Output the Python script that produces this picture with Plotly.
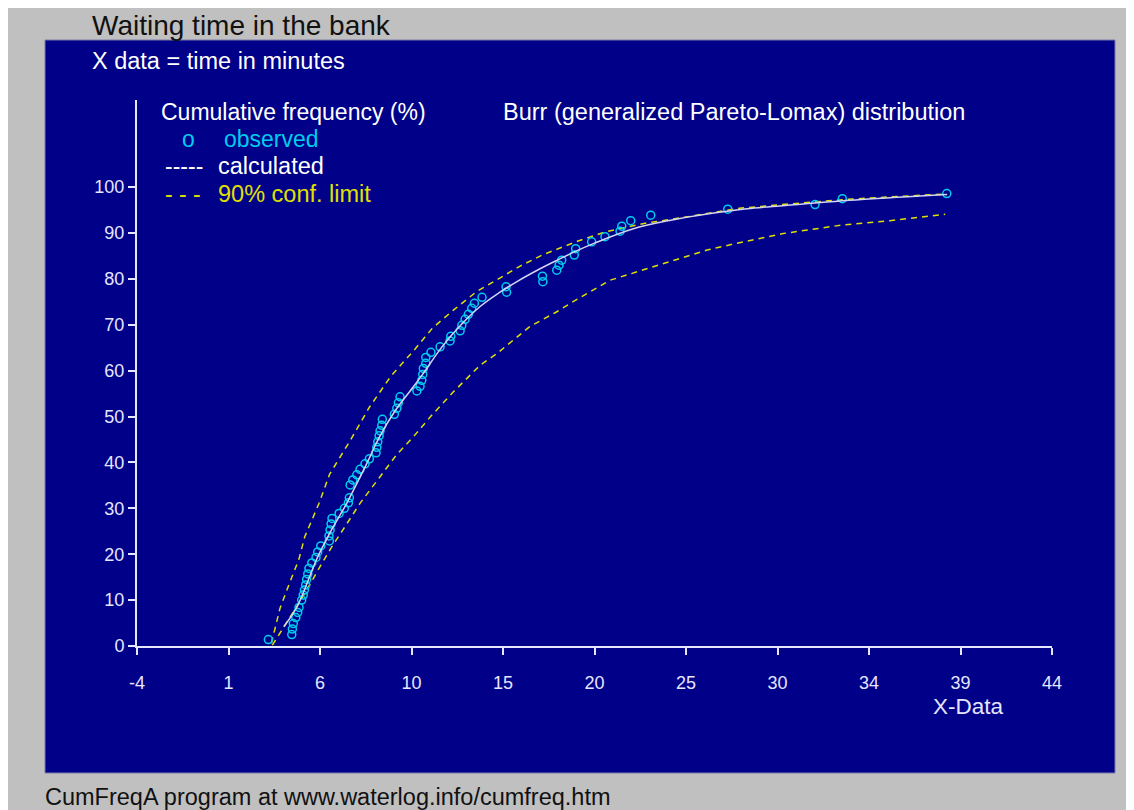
import plotly.graph_objects as go

# ---------------- data ----------------
obs_x = [2.89, 4.12, 4.15, 4.20, 4.33, 4.43, 4.50, 4.64, 4.72, 4.78, 4.85, 4.90, 4.96, 5.02,
         5.17, 5.39, 5.48, 5.64, 6.09, 6.07, 6.13, 6.18, 6.23, 6.60, 6.88, 7.09, 7.14, 7.18,
         7.32, 7.53, 7.70, 7.96, 8.19, 8.54, 8.58, 8.63, 8.70, 8.75, 8.84, 8.87, 9.50, 9.63,
         9.71, 9.80, 10.68, 10.85, 10.94, 10.99, 11.02, 11.15, 11.15, 11.42, 11.90, 12.42,
         12.46, 12.95, 13.04, 13.21, 13.38, 13.56, 13.70, 14.10, 15.39, 15.36, 17.29, 17.27,
         18.02, 18.14, 18.28, 18.94, 19.01, 19.85, 20.55, 21.34, 21.43, 21.90, 22.95, 26.99,
         31.57, 33.00, 38.48]
obs_y = [1.4, 2.5, 3.7, 4.9, 6.2, 7.3, 8.4, 10.0, 11.1, 12.2, 13.3, 14.5, 15.7, 16.9,
         18.1, 19.3, 20.5, 21.8, 22.9, 24.0, 25.3, 26.6, 27.8, 28.9, 30.0, 31.2, 32.3, 35.1,
         36.2, 37.3, 38.5, 39.7, 40.8, 42.1, 43.3, 44.5, 45.8, 46.9, 48.1, 49.4, 50.5, 51.8,
         53.0, 54.3, 55.6, 56.6, 57.9, 59.2, 60.5, 61.6, 62.9, 64.0, 65.2, 66.5,
         67.5, 68.7, 69.9, 71.2, 72.3, 73.6, 74.7, 76.0, 77.1, 78.3, 79.4, 80.6,
         81.9, 83.0, 84.1, 85.2, 86.6, 88.1, 89.2, 90.4, 91.5, 92.7, 93.9, 95.2,
         96.2, 97.5, 98.6]

calc_x = [3.7, 4.4, 5.0, 5.4, 6.1, 7.0, 8.0, 8.7, 9.5, 10.5, 11.0, 12.0, 13.0, 14.0, 15.0,
          16.0, 17.0, 18.0, 19.0, 20.0, 22.0, 24.0, 26.0, 28.0, 30.0, 34.0, 38.5]
calc_y = [4.2, 8.6, 14.5, 18.7, 24.5, 31.1, 39.3, 45.4, 51.0, 56.5, 59.3, 65.2, 70.0, 74.0, 77.0,
          79.6, 81.9, 84.0, 86.0, 87.8, 90.9, 92.8, 94.2, 95.3, 96.0, 97.3, 98.4]

up_x = [3.05, 3.25, 3.5, 4.0, 4.5, 4.8, 5.2, 5.55, 6.1, 7.2, 8.2, 9.3, 10.0, 10.5, 11.5, 12.6,
        13.8, 14.9, 16.1, 17.3, 18.4, 19.1, 20.6, 22.6, 24.8, 27.6, 30.4, 33.1, 36.0, 38.4]
up_y = [0.6, 3.9, 8.2, 13.7, 19.0, 23.8, 27.8, 31.1, 37.4, 44.9, 52.1, 58.7, 62.0, 64.3, 69.3,
        73.2, 77.2, 79.9, 82.8, 85.3, 87.0, 88.2, 90.3, 92.1, 93.5, 95.4, 96.4, 97.3, 98.0, 98.5]

lo_x = [3.1, 3.5, 4.0, 4.6, 5.6, 6.2, 6.8, 7.7, 8.75, 9.6, 10.5, 11.4, 12.6, 14.0, 14.9, 16.6,
        18.0, 19.1, 20.8, 23.1, 25.9, 27.6, 29.9, 32.9, 35.5, 38.4]
lo_y = [0.2, 2.8, 6.0, 10.0, 17.3, 21.5, 25.3, 31.1, 36.9, 41.6, 45.6, 50.0, 55.4, 61.2, 63.8,
        69.6, 72.8, 75.6, 79.7, 82.6, 86.3, 87.9, 89.9, 91.7, 92.7, 94.1]

x_tick_vals = [-4, 0.8, 5.6, 10.4, 15.2, 20, 24.8, 29.6, 34.4, 39.2, 44]
x_tick_text = ["-4", "1", "6", "10", "15", "20", "25", "30", "34", "39", "44"]
y_tick_vals = [0, 10, 20, 30, 40, 50, 60, 70, 80, 90, 100]

# ---------------- styling ----------------
OX, OY = 8, 8                      # page body margin
W, H = 1134 - OX, 810 - OY
ML, MR, MT, MB = 137 - OX, 82, 100 - OY, 164
PW, PH = W - ML - MR, H - MT - MB
FONT = "Liberation Sans, Arial, sans-serif"
NAVY = "#000088"
AXIS = "#e6e6ff"
CYAN = "#00ccee"
YEL = "#e0e000"
WHITE_LINE = "#d4d4f4"


def px(x):
    return (x - OX - ML) / PW


def py(y):
    return (H - MB - (y - OY)) / PH


fig = go.Figure()

fig.add_trace(go.Scatter(x=up_x, y=up_y, mode="lines",
                         line=dict(color=YEL, width=1.5, dash="6px,5px"),
                         showlegend=False, hoverinfo="skip"))
fig.add_trace(go.Scatter(x=lo_x, y=lo_y, mode="lines",
                         line=dict(color=YEL, width=1.5, dash="6px,5px"),
                         showlegend=False, hoverinfo="skip"))
fig.add_trace(go.Scatter(x=obs_x, y=obs_y, mode="markers",
                         marker=dict(symbol="circle-open", size=8, color=CYAN,
                                     line=dict(color=CYAN, width=1.5)),
                         showlegend=False))
fig.add_trace(go.Scatter(x=calc_x, y=calc_y, mode="lines", line_shape="spline",
                         line=dict(color=WHITE_LINE, width=1.5),
                         showlegend=False, hoverinfo="skip"))

shapes = [
    dict(type="rect", xref="paper", yref="paper", x0=px(45), x1=px(1115), y0=py(40), y1=py(773),
         fillcolor=NAVY, line=dict(color="#7a7aaa", width=1), layer="below"),
]

ann = []


def text(x, y, s, size, color, anchor="left"):
    ann.append(dict(xref="paper", yref="paper", x=px(x), y=py(y), text=s, showarrow=False,
                    xanchor=anchor, yanchor="middle",
                    font=dict(family=FONT, size=size, color=color)))


text(90, 25, "Waiting time in the bank", 28, "#111111")
text(90, 61, "X data = time in minutes", 23.5, "white")
text(159, 112, "Cumulative frequency (%)", 23, "white")
text(501, 112, "Burr (generalized Pareto-Lomax) distribution", 23.5, "white")
text(180, 139, "o", 23, CYAN)
text(222, 139, "observed", 23, CYAN)
text(163, 166, "-----", 23, "white")
text(216, 166, "calculated", 23.5, "white")
text(163, 194, "- - -", 23, YEL)
text(216, 194, "90% conf. limit", 23.5, YEL)
text(968, 706, "X-Data", 22.5, AXIS, anchor="center")
text(43, 797, "CumFreqA program at www.waterlog.info/cumfreq.htm", 23.5, "#111111")

fig.update_layout(
    width=W, height=H,
    margin=dict(l=ML, r=MR, t=MT, b=MB, pad=0),
    paper_bgcolor="#c0c0c0",
    plot_bgcolor="rgba(0,0,0,0)",
    shapes=shapes,
    annotations=ann,
    showlegend=False,
    xaxis=dict(range=[-4, 44], tickmode="array", tickvals=x_tick_vals, ticktext=x_tick_text,
               showgrid=False, zeroline=False, showline=True, linecolor=AXIS, linewidth=2,
               ticks="outside", ticklen=7, tickwidth=2, tickcolor=AXIS,
               ticklabelstandoff=12,
               tickfont=dict(family=FONT, size=18, color=AXIS)),
    yaxis=dict(range=[0, 119], tickmode="array", tickvals=y_tick_vals,
               showgrid=False, zeroline=False, showline=True, linecolor=AXIS, linewidth=2,
               ticks="outside", ticklen=7, tickwidth=2, tickcolor=AXIS,
               ticklabelstandoff=0,
               tickfont=dict(family=FONT, size=18, color=AXIS)),
)

fig.write_html("out.html")
